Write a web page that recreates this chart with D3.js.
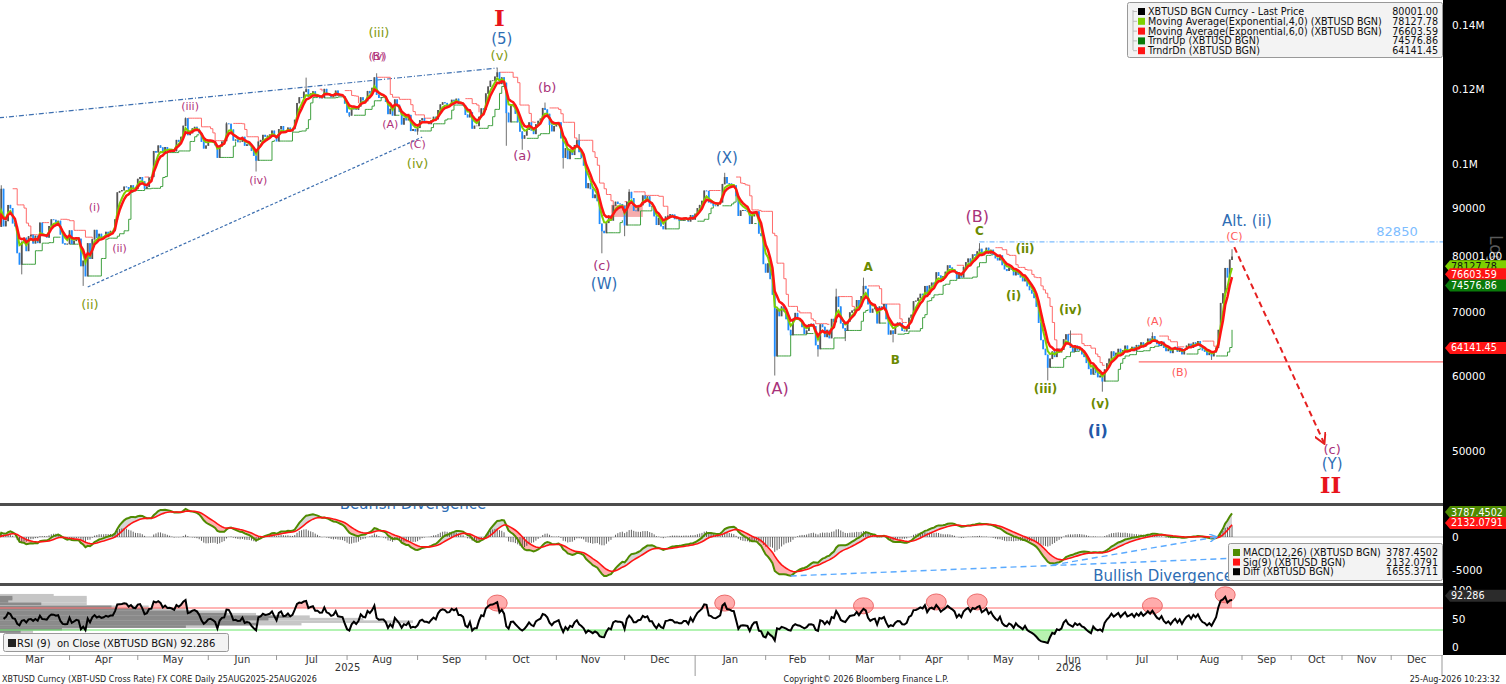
<!DOCTYPE html>
<html><head><meta charset="utf-8">
<script src="https://cdn.jsdelivr.net/npm/d3@7"></script>
<style>body{margin:0;background:#fff;overflow:hidden}</style>
</head><body>
<svg id="c" width="1506" height="684"></svg>
<script>
// ---------------- DATA ----------------
const startDate = "2025-03-01";
// daily closes, thousands USD
const close2025 = [
 86.0,94.2,86.1,87.2,90.6,89.9,86.7,86.1,80.7,78.5,82.9,83.7,81.1,84.0,84.3,82.6,84.1,82.7,86.8,84.2,84.1,83.8,86.1,87.5,87.4,86.9,87.2,84.4,82.6,82.4,82.5,
 85.2,82.5,83.1,83.8,83.5,78.2,79.2,76.3,82.6,79.6,83.4,85.3,83.7,84.5,83.6,84.0,84.9,84.5,85.1,85.1,87.5,93.4,93.7,93.9,94.7,94.6,93.8,95.0,94.3,94.2,
 96.5,96.9,95.9,94.3,94.7,96.8,97.0,103.2,102.9,104.6,104.1,102.8,104.2,103.5,103.7,103.5,103.2,106.0,105.6,106.8,109.7,111.7,107.3,107.8,109.0,109.4,108.9,107.8,105.6,103.9,104.6,
 105.6,105.8,105.4,104.7,101.6,104.4,105.6,105.8,110.3,110.2,108.7,105.9,106.1,105.5,105.6,106.8,104.6,104.9,104.7,103.3,102.1,100.9,105.6,106.0,107.3,106.9,107.1,107.4,108.4,107.1,
 105.7,108.8,109.6,108.0,108.2,109.2,108.3,108.9,111.3,115.9,117.5,117.4,119.1,119.8,117.7,118.6,119.2,117.9,117.9,117.3,117.4,119.9,118.6,118.3,117.6,117.9,119.4,118.0,117.9,117.8,115.8,
 113.3,112.5,114.2,115.0,114.1,115.0,117.5,116.7,116.5,119.3,118.7,120.2,123.3,118.3,117.4,117.5,117.5,116.3,112.9,114.3,112.5,116.9,115.4,113.5,110.1,111.8,111.2,112.6,108.4,108.8,108.3,
 109.2,111.2,111.7,110.7,110.7,110.2,111.2,112.1,111.5,113.9,115.5,116.1,115.9,115.3,115.4,116.8,116.5,117.1,115.7,115.7,115.3,112.7,112.0,113.3,109.0,109.7,109.7,112.1,114.4,114.1,
 118.6,120.6,122.3,122.4,123.5,124.8,121.4,123.3,121.7,113.2,110.7,115.1,115.3,113.0,110.7,108.2,106.4,107.2,108.7,110.6,108.5,107.6,110.1,111.0,111.6,114.5,114.1,112.9,110.0,108.3,109.6,
 110.1,110.6,106.5,101.6,103.9,101.3,103.3,102.3,104.7,105.9,103.0,101.6,99.7,94.4,95.5,94.2,92.2,92.9,91.5,86.6,85.1,84.7,86.8,88.3,87.3,90.5,91.3,90.9,90.8,90.4,
 86.3,91.3,93.5,92.1,89.4,89.3,90.4,90.6,92.7,92.0,92.5,90.3,90.3,88.2,86.4,87.8,86.1,85.5,88.1,88.3,88.6,88.5,87.6,87.7,87.3,87.3,87.8,87.8,87.1,88.4,87.5
];
const close2026 = [
 88.7,89.9,90.6,91.5,93.8,93.7,91.2,91.0,90.5,90.4,90.8,91.2,95.3,96.9,95.5,95.4,95.1,95.0,92.6,88.3,89.4,89.5,89.4,89.2,86.6,88.2,89.1,89.2,84.6,84.1,78.6,
 77.0,78.7,75.8,73.0,62.9,70.5,69.3,70.9,70.1,68.8,67.0,66.2,68.8,69.8,68.8,68.5,67.5,66.4,66.9,67.9,68.0,67.6,64.6,64.0,67.9,67.5,65.9,67.0,
 65.7,68.8,68.3,72.6,70.9,68.1,67.3,66.9,68.4,69.9,70.2,70.4,72.0,70.9,72.7,74.5,74.0,71.3,69.9,70.5,70.8,68.1,70.9,70.6,71.3,68.8,66.3,66.9,66.4,67.6,68.2,
 68.1,66.9,66.8,67.2,69.0,69.5,71.8,71.9,72.4,73.1,72.9,74.5,73.0,74.6,75.1,74.8,77.0,76.4,75.5,76.3,77.1,78.3,77.9,77.6,77.2,75.9,76.7,76.1,78.0,78.9,
 79.6,78.8,80.4,80.2,81.0,81.5,80.3,80.9,81.7,80.6,81.3,80.4,79.7,79.3,80.2,78.4,77.6,77.3,77.9,77.5,76.5,77.4,76.6,76.1,75.4,76.0,74.5,73.8,73.2,72.4,70.9,
 68.2,65.4,64.0,63.1,61.2,62.5,63.6,62.8,64.0,63.5,63.9,65.5,66.3,64.8,64.2,63.6,64.5,63.8,64.1,63.2,62.8,61.9,61.0,60.2,61.5,60.4,59.8,60.0,59.2,60.9,
 61.8,62.5,63.6,62.9,63.4,64.0,63.1,63.8,64.5,63.6,63.9,64.3,63.7,64.6,64.2,65.0,64.4,64.9,65.6,65.2,66.0,65.4,64.8,64.5,65.1,64.2,63.7,64.0,63.4,63.9,64.3,
 63.6,64.1,63.2,63.9,64.5,64.8,64.2,65.0,64.6,65.2,64.4,63.8,63.6,63.1,63.4,62.9,63.5,64.2,67.0,71.5,73.2,77.8,76.1,79.4,80.0
];
// notable intraday extremes (thousands)
const wickHighs = [["2025-03-02",95.0],["2025-05-22",111.9],["2025-06-09",110.6],["2025-07-14",123.2],["2025-08-14",124.5],
 ["2025-10-06",126.2],["2025-10-27",116.0],["2025-11-11",107.5],["2025-12-03",94.1],["2026-01-14",97.9],["2026-03-04",74.0],
 ["2026-03-16",76.0],["2026-05-06",82.6],["2026-06-15",66.9],["2026-07-21",66.6],["2026-08-25",81.4]];
const wickLows = [["2025-03-11",76.6],["2025-04-07",74.5],["2025-06-22",98.2],["2025-08-02",112.0],["2025-09-01",107.3],
 ["2025-10-10",104.5],["2025-10-17",103.5],["2025-11-04",98.9],["2025-11-21",80.6],["2025-12-01",84.0],["2026-02-05",60.0],
 ["2026-02-24",62.8],["2026-03-08",65.2],["2026-03-29",65.0],["2026-06-05",59.3],["2026-06-29",57.7],["2026-08-16",62.3]];

const mainTickValues = [140000,120000,100000,90000,70000,60000,50000];
const mainTickLabels = ["0.14M","0.12M","0.1M","90000","70000","60000","50000"];
const macdTickValues = [0,-5000];
const macdTickLabels = ["0","-5000"];
const rsiTickValues = [100,50,0];
const rsiTickLabels = ["100","50","0"];
const yearLabels = ["2025","2026"];

const legendNames = ["XBTUSD BGN Curncy - Last Price","Moving Average(Exponential,4,0) (XBTUSD BGN)","Moving Average(Exponential,6,0) (XBTUSD BGN)","TrndrUp (XBTUSD BGN)","TrndrDn (XBTUSD BGN)"];
const legendValues = [80001.00,78127.78,76603.59,74576.86,64141.45];
const macdNames = ["MACD(12,26) (XBTUSD BGN)","Sig(9) (XBTUSD BGN)","Diff (XBTUSD BGN)"];
const macdValues = [3787.4502,2132.0791,1655.3711];
const rsiLast = 92.286;

// Elliott wave labels: [text, date, price (k)]
const romanLabels = [["I","2025-10-07",142.6],["II","2026-10-25",46.1]];
const blueLabels = [["(5)","2025-10-08",135.3],["(W)","2025-11-22",74.8],["(X)","2026-01-15",101.5],["(Y)","2026-10-26",48.5],["Alt. (ii)","2026-09-04",87.1]];
const blueBoldLabels = [["(i)","2026-06-27",52.6]];
const oliveLabels = [["(iii)","2025-08-15",137.5],["(v)","2025-10-07",130.1],["(iv)","2025-09-01",100.2],["(ii)","2025-04-10",71.3]];
const oliveBoldLabels = [["(ii)","2026-05-26",81.4],["(i)","2026-05-21",72.7],["(iv)","2026-06-15",70.3],["(iii)","2026-06-04",58.1],["(v)","2026-06-28",56.0],["A","2026-03-18",78.0],["B","2026-03-30",62.3],["C","2026-05-06",85.1]];
const magentaSmallLabels = [["(iii)","2025-05-24",115.0],["(A)","2025-08-20",110.1],["(C)","2025-09-01",104.7],["(i)","2025-04-12",90.1],["(ii)","2025-04-23",81.6],["(iv)","2025-06-23",96.0],["(B)","2025-08-14",129.8],["(v)","2025-08-15",129.8]];
const magentaLabels = [["(a)","2025-10-17",102.0],["(b)","2025-10-28",120.4],["(c)","2025-11-21",78.2],["(c)","2026-10-26",50.2]];
const magentaLargeLabels = [["(A)","2026-02-06",58.2],["(B)","2026-05-05",88.0]];
const salmonLabels = [["(A)","2026-07-22",68.4],["(B)","2026-08-02",60.4],["(C)","2026-08-26",84.0]];

const wedgeUpper = [["2025-03-01",111.8],["2025-10-06",126.1]];
const wedgeLower = [["2025-04-09",74.3],["2025-09-03",106.7]];
const altLevel = {from:"2026-05-06", value:82850};
const supportLevel = {from:"2026-07-15", value:62000};
const projection = [["2026-08-26",81.8],["2026-10-21",51.0]];
const pinkBox = {from:"2025-11-25", to:"2025-12-09", lo:88.0, hi:90.6};
const macdDivLine = [["2026-02-12",-5900],["2026-08-28",-3200]];
const macdDivArrow = [["2026-06-07",-4250],["2026-08-18",0]];
const rsiMarks = [["2025-10-06",79],["2026-01-14",79],["2026-03-16",74],["2026-04-17",81],["2026-05-05",81],["2026-07-21",74],["2026-08-22",94]];
// volume-at-price profile drawn in the RSI pane: level, total volume, down volume
const profileLevel = [93,89.5,86,82,77.5,72,67.5,63,58.5,54,49.5,45,40.5,36,31.5,27];
const profileVol   = [13,21,21,21,21,36,45,55,62,75,88,100,73,53,21,8];
const profileDown  = [0,3,3,2,10,27,36,48,55,70,65,60,62,45,15,5];

// ---------------- SETUP ----------------
const FONT = '"DejaVu Sans", Verdana, sans-serif';
const parse = d3.timeParse("%Y-%m-%d");
const fmt = d3.timeFormat("%Y-%m-%d");
const PX = 1443;
const svg = d3.select("#c").attr("font-family", FONT);
const defs = svg.append("defs");
function clipRect(id,x,y,w,h){defs.append("clipPath").attr("id",id).append("rect").attr("x",x).attr("y",y).attr("width",w).attr("height",h);}
clipRect("cMain",0,0,PX,503); clipRect("cMacd",0,506,PX,77); clipRect("cRsi",0,586,PX,69);

const x = d3.scaleTime()
  .domain([parse("2025-03-01"),parse("2026-08-26"),parse("2026-09-01"),parse("2027-01-01")])
  .range([-1,1234.3,1242,1442]);
const y = d3.scaleLog().domain([44100,148600]).range([503,0]);
const yM = d3.scaleLinear().domain([0,-5000]).range([537,570]);
const yR = d3.scaleLinear().domain([0,100]).range([646.5,591.5]);

const closes = close2025.concat(close2026).map(v=>v*1000);
const t0 = parse(startDate);
const dates = closes.map((_,i)=>d3.timeDay.offset(t0,i));
const X = i => x(dates[i]);

function ema(arr,n){const a=2/(n+1);let p;return arr.map((v,i)=>(p=i?p+a*(v-p):v));}
const ema4 = ema(closes,4), ema6 = ema(closes,6);
const e12 = ema(closes,12), e26 = ema(closes,26);
const macd = closes.map((_,i)=>e12[i]-e26[i]);
const sig = ema(macd,9);
const diff = macd.map((m,i)=>m-sig[i]);
const rsi = (()=>{const n=9;let ag=0,al=0;const out=[null];
  for(let i=1;i<closes.length;i++){const ch=closes[i]-closes[i-1];const g=Math.max(ch,0),l=Math.max(-ch,0);
    if(i<=n){ag=(ag*(i-1)+g)/i;al=(al*(i-1)+l)/i;}else{ag=(ag*(n-1)+g)/n;al=(al*(n-1)+l)/n;}
    out.push(i<2?null:(al===0?100:100-100/(1+ag/al)));}
  return out;})();
const trail = (()=>{const N=6;let u=null,d=null;const up=[],dn=[];
  for(let i=0;i<closes.length;i++){const c=closes[i];
    if(i<N){up.push(null);dn.push(null);continue;}
    const win=closes.slice(i-N,i);const lo=d3.min(win),hi=d3.max(win);
    if(u===null){ if(c>lo*1.02) u=lo; } else if(c<u){ u=null; } else u=Math.max(u,Math.min(lo,c));
    if(d===null){ if(c<hi*0.98) d=hi; } else if(c>d){ d=null; } else d=Math.min(d,Math.max(hi,c));
    up.push(u);dn.push(d);}
  return {up,dn};})();

const hiMap = new Map(wickHighs.map(([d,v])=>[d,v*1000]));
const loMap = new Map(wickLows.map(([d,v])=>[d,v*1000]));
const bars = closes.map((c,i)=>{const o=i?closes[i-1]:c;const k=fmt(dates[i]);
  let hi=Math.max(o,c),lo=Math.min(o,c);
  if(hiMap.has(k))hi=Math.max(hi,hiMap.get(k)); if(loMap.has(k))lo=Math.min(lo,loMap.get(k));
  return {i,o,c,hi,lo,up:c>=o};});

// ---------------- MAIN PANEL ----------------
const gMain = svg.append("g").attr("clip-path","url(#cMain)");
const P = ([d,v])=>[x(parse(d)), y(v*1000)];
gMain.append("line").attr("x1",P(wedgeUpper[0])[0]).attr("y1",P(wedgeUpper[0])[1]).attr("x2",P(wedgeUpper[1])[0]).attr("y2",P(wedgeUpper[1])[1])
  .attr("stroke","#3d6fb0").attr("stroke-width",1.2).attr("stroke-dasharray","5,2,1,2");
gMain.append("line").attr("x1",P(wedgeLower[0])[0]).attr("y1",P(wedgeLower[0])[1]).attr("x2",P(wedgeLower[1])[0]).attr("y2",P(wedgeLower[1])[1])
  .attr("stroke","#3d6fb0").attr("stroke-width",1.2).attr("stroke-dasharray","3,2");
// pink box
gMain.append("rect").attr("x",x(parse(pinkBox.from))).attr("y",y(pinkBox.hi*1000))
  .attr("width",x(parse(pinkBox.to))-x(parse(pinkBox.from))).attr("height",y(pinkBox.lo*1000)-y(pinkBox.hi*1000))
  .attr("fill","rgba(235,70,70,0.45)");
// trend stops
const stepLine = arr => d3.line().defined((d,i)=>arr[i]!==null).x((d,i)=>X(i)).y((d,i)=>y(arr[i])).curve(d3.curveStepAfter)(closes);
gMain.append("path").attr("d",stepLine(trail.dn)).attr("fill","none").attr("stroke","#ff6a6a").attr("stroke-width",1);
gMain.append("path").attr("d",stepLine(trail.up)).attr("fill","none").attr("stroke","#3fa03f").attr("stroke-width",1);
// bars
gMain.selectAll(".wick").data(bars).join("line").attr("x1",d=>X(d.i)).attr("x2",d=>X(d.i))
  .attr("y1",d=>y(d.hi)).attr("y2",d=>y(d.lo)).attr("stroke","#707070").attr("stroke-width",1);
gMain.selectAll(".body").data(bars).join("line").attr("x1",d=>X(d.i)).attr("x2",d=>X(d.i))
  .attr("y1",d=>y(Math.max(d.o,d.c))).attr("y2",d=>y(Math.min(d.o,d.c))+0.5)
  .attr("stroke",d=>d.up?"#555":"#1e8cff").attr("stroke-width",1.8);
// EMAs
const lineOf = arr => d3.line().x((d,i)=>X(i)).y((d,i)=>y(arr[i]))(closes);
gMain.append("path").attr("d",lineOf(ema4)).attr("fill","none").attr("stroke","#7ed000").attr("stroke-width",2);
gMain.append("path").attr("d",lineOf(ema6)).attr("fill","none").attr("stroke","#ff1414").attr("stroke-width",2.5);
// levels
gMain.append("line").attr("x1",x(parse(altLevel.from))).attr("x2",PX).attr("y1",y(altLevel.value)).attr("y2",y(altLevel.value))
  .attr("stroke","#7dbdff").attr("stroke-width",1.2).attr("stroke-dasharray","5,2,1,2");
svg.append("text").attr("x",1397).attr("y",y(altLevel.value)-10).attr("text-anchor","middle").attr("dominant-baseline","central")
  .attr("font-size",13).attr("fill","#7dbdff").text(d3.format("d")(altLevel.value));
gMain.append("line").attr("x1",x(parse(supportLevel.from))).attr("x2",PX).attr("y1",y(supportLevel.value)).attr("y2",y(supportLevel.value))
  .attr("stroke","#ff6b6b").attr("stroke-width",1.2);
// projection arrow
defs.append("marker").attr("id","arrR").attr("viewBox","0 0 10 10").attr("refX",8).attr("refY",5).attr("markerWidth",6).attr("markerHeight",6).attr("orient","auto")
  .append("path").attr("d","M0,0 L9,5 L0,10").attr("fill","none").attr("stroke","#e52020").attr("stroke-width",1.6);
svg.append("line").attr("x1",P(projection[0])[0]).attr("y1",P(projection[0])[1]).attr("x2",P(projection[1])[0]).attr("y2",P(projection[1])[1])
  .attr("stroke","#e52020").attr("stroke-width",2).attr("stroke-dasharray","6,4").attr("marker-end","url(#arrR)");

// wave labels
const gLab = svg.append("g");
function labels(arr, size, color, opts={}){
  gLab.selectAll(null).data(arr).join("text")
    .attr("x",d=>x(parse(d[1]))).attr("y",d=>y(d[2]*1000))
    .attr("text-anchor","middle").attr("dominant-baseline","central")
    .attr("font-size",size).attr("fill",color)
    .attr("font-weight",opts.bold?"bold":"normal")
    .attr("font-family",opts.family||FONT).text(d=>d[0]);
}
labels(romanLabels,23,"#e8141c",{bold:true,family:'"DejaVu Serif","Liberation Serif",serif'});
labels(blueLabels,15,"#2e6db4");
labels(blueBoldLabels,16,"#2358a8",{bold:true});
labels(oliveLabels,13,"#7f9a10");
labels(oliveBoldLabels,12,"#6b8a00",{bold:true});
labels(magentaSmallLabels,11,"#b0307a");
labels(magentaLabels,13,"#a8327a");
labels(magentaLargeLabels,16,"#a8327a");
labels(salmonLabels,11,"#ff5a5a");

// main legend
const gLeg = svg.append("g");
gLeg.append("rect").attr("x",1127.5).attr("y",2.5).attr("width",315).attr("height",55).attr("fill","#f3f3f3").attr("stroke","#999").attr("rx",2);
const legColors = ["#000","#7ed000","#ff1414","#0a7a0a","#ff1414"];
gLeg.append("line").attr("x1",1133).attr("x2",1133).attr("y1",10).attr("y2",50).attr("stroke","#bbb");
legendNames.forEach((n,i)=>{const yy=11.5+i*9.8;
  gLeg.append("line").attr("x1",1133).attr("x2",1137).attr("y1",yy).attr("y2",yy).attr("stroke","#bbb");
  gLeg.append("rect").attr("x",1138).attr("y",yy-3.5).attr("width",7).attr("height",7).attr("fill",legColors[i]);
  gLeg.append("text").attr("x",1148).attr("y",yy).attr("dominant-baseline","central").attr("font-size",9.6).attr("fill","#111").text(n);
  gLeg.append("text").attr("x",1438).attr("y",yy).attr("dominant-baseline","central").attr("text-anchor","end").attr("font-size",9.6).attr("fill","#111").text(legendValues[i].toFixed(2));
});

// ---------------- MACD PANEL ----------------
const gM = svg.append("g").attr("clip-path","url(#cMacd)");
const mTop=506, mBot=583;
defs.append("clipPath").attr("id","aboveSig").append("path").attr("d",d3.area().x((d,i)=>X(i)).y0(mTop).y1((d,i)=>yM(sig[i]))(closes));
defs.append("clipPath").attr("id","belowSig").append("path").attr("d",d3.area().x((d,i)=>X(i)).y0((d,i)=>yM(sig[i])).y1(mBot)(closes));
const between = d3.area().x((d,i)=>X(i)).y0((d,i)=>yM(sig[i])).y1((d,i)=>yM(macd[i]));
gM.append("line").attr("x1",0).attr("x2",PX).attr("y1",yM(0)).attr("y2",yM(0)).attr("stroke","#d0d0d0").attr("stroke-width",1.5);
gM.append("path").attr("d",between(closes)).attr("fill","#d6d6d6").attr("clip-path","url(#aboveSig)");
gM.append("path").attr("d",between(closes)).attr("fill","#ffb0b0").attr("clip-path","url(#belowSig)");
gM.selectAll(".h").data(diff).join("line").attr("x1",(d,i)=>X(i)).attr("x2",(d,i)=>X(i))
  .attr("y1",yM(0)).attr("y2",d=>yM(d)).attr("stroke","#222").attr("stroke-width",0.7);
gM.append("path").attr("d",d3.line().x((d,i)=>X(i)).y(d=>yM(d))(macd)).attr("fill","none").attr("stroke","#4e8a00").attr("stroke-width",2);
gM.append("path").attr("d",d3.line().x((d,i)=>X(i)).y(d=>yM(d))(sig)).attr("fill","none").attr("stroke","#ff1414").attr("stroke-width",1.6);
// divergence lines
const PM = ([d,v])=>[x(parse(d)), yM(v)];
defs.append("marker").attr("id","arrB").attr("viewBox","0 0 10 10").attr("refX",8).attr("refY",5).attr("markerWidth",6).attr("markerHeight",6).attr("orient","auto")
  .append("path").attr("d","M0,0 L9,5 L0,10").attr("fill","none").attr("stroke","#5aaaff").attr("stroke-width",1.6);
gM.append("line").attr("x1",PM(macdDivLine[0])[0]).attr("y1",PM(macdDivLine[0])[1]).attr("x2",PM(macdDivLine[1])[0]).attr("y2",PM(macdDivLine[1])[1])
  .attr("stroke","#5aaaff").attr("stroke-width",1.4).attr("stroke-dasharray","6,4");
gM.append("line").attr("x1",PM(macdDivArrow[0])[0]).attr("y1",PM(macdDivArrow[0])[1]).attr("x2",PM(macdDivArrow[1])[0]).attr("y2",PM(macdDivArrow[1])[1])
  .attr("stroke","#5aaaff").attr("stroke-width",1.4).attr("stroke-dasharray","6,4").attr("marker-end","url(#arrB)");
gM.append("text").attr("x",x(parse("2025-08-30"))).attr("y",yM(4300)).attr("text-anchor","middle")
  .attr("font-size",15).attr("fill","#2e6db4").text("Bearish Divergence");
gM.append("text").attr("x",x(parse("2026-06-25"))).attr("y",yM(-6700)).attr("text-anchor","start")
  .attr("font-size",15).attr("fill","#2e6db4").text("Bullish Divergence");
// macd legend
const gML = svg.append("g");
gML.append("rect").attr("x",1228.5).attr("y",543.5).attr("width",214).attr("height",37).attr("fill","#f3f3f3").attr("stroke","#999").attr("rx",2);
const macdColors = ["#4e8a00","#ff1414","#000"];
macdNames.forEach((n,i)=>{const yy=552.5+i*9.6;
  gML.append("rect").attr("x",1233).attr("y",yy-3.5).attr("width",7).attr("height",7).attr("fill",macdColors[i]);
  gML.append("text").attr("x",1243).attr("y",yy).attr("dominant-baseline","central").attr("font-size",9.6).attr("fill","#111").text(n);
  gML.append("text").attr("x",1438).attr("y",yy).attr("dominant-baseline","central").attr("text-anchor","end").attr("font-size",9.6).attr("fill","#111").text(macdValues[i].toFixed(4));
});

// ---------------- RSI PANEL ----------------
const gR = svg.append("g").attr("clip-path","url(#cRsi)");
const vx = d3.scaleLinear().domain([0,100]).range([0,413]);
gR.selectAll(".pf").data(profileLevel).join("rect").attr("x",0).attr("y",d=>yR(d)-1.4)
  .attr("width",(d,i)=>vx(profileVol[i])).attr("height",2.6).attr("fill","#c6c6c6");
gR.selectAll(".pd").data(profileLevel).join("rect").attr("x",0).attr("y",d=>yR(d)-1.4)
  .attr("width",(d,i)=>vx(profileDown[i])).attr("height",2.6).attr("fill","#8a8a8a");
clipRect("rAbove",0,586,PX,yR(70)-586);
clipRect("rBelow",0,yR(30),PX,655-yR(30));
const rDef=(d,i)=>rsi[i]!==null;
gR.append("path").attr("d",d3.area().defined(rDef).x((d,i)=>X(i)).y0(yR(70)).y1((d,i)=>yR(rsi[i]))(closes)).attr("fill","#ffb8b8").attr("clip-path","url(#rAbove)");
gR.append("path").attr("d",d3.area().defined(rDef).x((d,i)=>X(i)).y0(yR(30)).y1((d,i)=>yR(rsi[i]))(closes)).attr("fill","#b8f2b0").attr("clip-path","url(#rBelow)");
gR.append("line").attr("x1",0).attr("x2",PX).attr("y1",yR(70)).attr("y2",yR(70)).attr("stroke","#ff6b6b").attr("stroke-width",1);
gR.append("line").attr("x1",0).attr("x2",PX).attr("y1",yR(30)).attr("y2",yR(30)).attr("stroke","#66e866").attr("stroke-width",1.2);
gR.selectAll(".mk").data(rsiMarks).join("ellipse").attr("cx",d=>x(parse(d[0]))).attr("cy",d=>yR(d[1]))
  .attr("rx",10).attr("ry",8).attr("fill","rgba(255,90,90,0.5)").attr("stroke","#ec6b6b").attr("stroke-width",1);
gR.append("path").attr("d",d3.line().defined(rDef).x((d,i)=>X(i)).y((d,i)=>yR(rsi[i]))(closes)).attr("fill","none").attr("stroke","#000").attr("stroke-width",2);
// rsi legend
svg.append("rect").attr("x",3.5).attr("y",633.5).attr("width",225).attr("height",18).attr("fill","#f3f3f3").attr("stroke","#999").attr("rx",2);
svg.append("rect").attr("x",8).attr("y",639).attr("width",8).attr("height",8).attr("fill","#222");
svg.append("text").attr("x",17).attr("y",643).attr("dominant-baseline","central").attr("font-size",10).attr("fill","#111")
  .attr("style","white-space:pre").text("RSI (9)  on Close (XBTUSD BGN) "+rsiLast.toFixed(3));

// ---------------- FRAME & AXES ----------------
svg.append("rect").attr("x",0).attr("y",503).attr("width",PX).attr("height",3).attr("fill","#4d4d4d");
svg.append("rect").attr("x",0).attr("y",583).attr("width",PX).attr("height",3).attr("fill","#4d4d4d");
svg.append("line").attr("x1",0).attr("x2",PX).attr("y1",655.5).attr("y2",655.5).attr("stroke","#bbb");
svg.append("rect").attr("x",PX).attr("y",0).attr("width",1506-PX).attr("height",655).attr("fill","#000");

const axisText = (yy,t)=>svg.append("text").attr("x",1452).attr("y",yy).attr("dominant-baseline","central").attr("font-size",10.5).attr("fill","#fff").text(t);
mainTickValues.forEach((v,i)=>axisText(y(v),mainTickLabels[i]));
macdTickValues.forEach((v,i)=>axisText(yM(v),macdTickLabels[i]));
rsiTickValues.forEach((v,i)=>axisText(yR(v)+(v===100?-2:0),rsiTickLabels[i]));
svg.append("text").attr("transform",`translate(1490,235) rotate(90)`).attr("font-size",17).attr("fill","#5a5a5a").text("Log");
axisText(y(legendValues[0]), legendValues[0].toFixed(2));

function tag(yy,txt,bg,fg){
  svg.append("path").attr("d",`M1445,${yy} L1450,${yy-6} L1506,${yy-6} L1506,${yy+6} L1450,${yy+6} Z`).attr("fill",bg);
  svg.append("text").attr("x",1451).attr("y",yy).attr("dominant-baseline","central").attr("font-size",9.6).attr("fill",fg).text(txt);
}
tag(y(legendValues[1]),legendValues[1].toFixed(2),"#7ed000","#111");
tag(y(legendValues[2]),legendValues[2].toFixed(2),"#ff1414","#fff");
tag(y(legendValues[3]),legendValues[3].toFixed(2),"#0a7a0a","#fff");
tag(y(legendValues[4]),legendValues[4].toFixed(2),"#ff1414","#fff");
tag(yM(macdValues[0]),macdValues[0].toFixed(4),"#4e8a00","#fff");
tag(yM(macdValues[1]),macdValues[1].toFixed(4),"#ff1414","#fff");
tag(yR(rsiLast),rsiLast.toFixed(3),"#2b2b2b","#fff");

// x axis
const months = d3.timeMonth.range(parse("2025-03-01"), parse("2027-01-02"));
months.forEach((m,i)=>{
  const xm=x(m);
  const isYear = m.getMonth()===0;
  if(xm>0) svg.append("line").attr("x1",xm).attr("x2",xm).attr("y1",655).attr("y2",isYear?676:660).attr("stroke","#999");
  if(i<months.length-1){
    svg.append("text").attr("x",(Math.max(0,xm)+x(months[i+1]))/2).attr("y",659.5).attr("text-anchor","middle")
      .attr("dominant-baseline","central").attr("font-size",10).attr("fill","#333").text(d3.timeFormat("%b")(m));
  }
});
yearLabels.forEach(yl=>{
  const a=Math.max(0,x(parse(yl+"-01-01"))), b=Math.min(1442,x(parse((+yl+1)+"-01-01")));
  svg.append("text").attr("x",(a+b)/2).attr("y",667.5).attr("text-anchor","middle").attr("dominant-baseline","central")
    .attr("font-size",10).attr("fill","#333").text(yl);
});
svg.append("text").attr("x",2).attr("y",679).attr("dominant-baseline","central").attr("font-size",8).attr("fill","#222")
  .text("XBTUSD Curncy (XBT-USD Cross Rate) FX CORE Daily 25AUG2025-25AUG2026");
svg.append("text").attr("x",866).attr("y",679).attr("text-anchor","middle").attr("dominant-baseline","central").attr("font-size",8).attr("fill","#222")
  .text("Copyright© 2026 Bloomberg Finance L.P.");
svg.append("text").attr("x",1500).attr("y",679).attr("text-anchor","end").attr("dominant-baseline","central").attr("font-size",8).attr("fill","#222")
  .text("25-Aug-2026 10:23:32");
</script>
</body></html>
